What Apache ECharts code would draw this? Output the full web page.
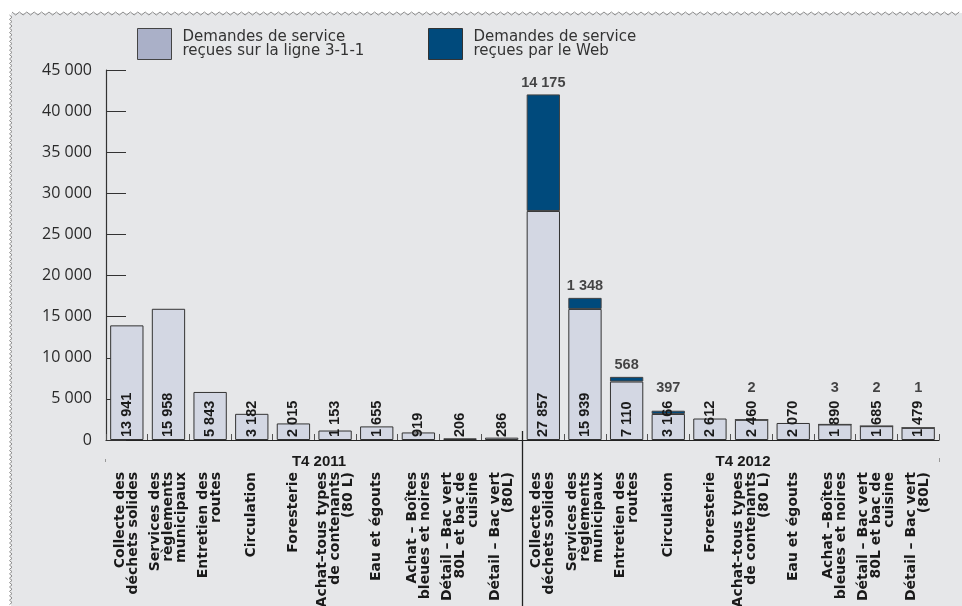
<!DOCTYPE html>
<html>
<head>
<meta charset="utf-8">
<script src="https://cdn.jsdelivr.net/npm/echarts@6.0.0/dist/echarts.min.js"></script>
<style>
  html, body { margin: 0; padding: 0; background: #ffffff; }
  #chart { width: 962px; height: 606px; }
</style>
</head>
<body>
<div id="chart"></div>
<script>
// Service requests by category, Q4 2011 vs Q4 2012
const categories = [
  'Collecte des\ndéchets solides',
  'Services des\nrèglements\nmunicipaux',
  'Entretien des\nroutes',
  'Circulation',
  'Foresterie',
  'Achat–tous types\nde contenants\n(80 L)',
  'Eau et égouts',
  'Achat – Boîtes\nbleues et noires',
  'Détail – Bac vert\n80L et bac de\ncuisine',
  'Détail – Bac vert\n(80L)',
  'Collecte des\ndéchets solides ',
  'Services des\nrèglements\nmunicipaux ',
  'Entretien des\nroutes ',
  'Circulation ',
  'Foresterie ',
  'Achat–tous types\nde contenants\n(80 L) ',
  'Eau et égouts ',
  'Achat –Boîtes\nbleues et noires',
  'Détail – Bac vert\n80L et bac de\ncuisine ',
  'Détail – Bac vert\n(80L) '
];
const periods = ['T4 2011', 'T4 2012'];
const phoneRequests = [13941, 15958, 5843, 3182, 2015, 1153, 1655, 919, 206, 286,
                       27857, 15939, 7110, 3166, 2612, 2460, 2070, 1890, 1685, 1479];
const webRequests = [null, null, null, null, null, null, null, null, null, null,
                     14175, 1348, 568, 397, null, 2, null, 3, 2, 1];
const seriesNames = ['Demandes de service\nreçues sur la ligne 3-1-1',
                     'Demandes de service\nreçues par le Web'];
const yMin = 0, yMax = 45000, yStep = 5000;

// lowest value at which a web label may sit, so it clears the rotated labels
const WEB_LABEL_FLOOR = 4900;

const fmt = n => String(n).replace(/\B(?=(\d{3})+(?!\d))/g, ' ');

const webLabelAnchors = [];
webRequests.forEach((v, i) => {
  if (v != null) webLabelAnchors.push([i, Math.max(phoneRequests[i] + v, WEB_LABEL_FLOOR), v]);
});

const chart = echarts.init(document.getElementById('chart'), null, { renderer: 'canvas' });

function zigzag(x0, y0, x1, y1, step, amp, horizontal) {
  const pts = [];
  let k = 0;
  if (horizontal) {
    for (let x = x0; x <= x1; x += step, k++) pts.push([x, y0 + (k % 2 ? amp : 0)]);
  } else {
    for (let y = y0; y <= y1; y += step, k++) pts.push([x0 + (k % 2 ? amp : 0), y]);
  }
  return pts;
}

const legendText = { fontFamily: 'DejaVu Sans', fontSize: 15, lineHeight: 14, color: '#333', padding: [0, 0, 0, 6] };

const option = {
  backgroundColor: '#ffffff',
  animation: false,
  grid: { left: 106, right: 23, top: 70, bottom: 166, containLabel: false, outerBoundsMode: 'none' },
  legend: [
    {
      left: 137, top: 28, padding: 0, selectedMode: false, icon: 'rect',
      itemWidth: 34, itemHeight: 31,
      data: [{ name: seriesNames[0], itemStyle: { color: '#aab0c8', borderColor: '#444', borderWidth: 1 } }],
      textStyle: legendText
    },
    {
      left: 428, top: 28, padding: 0, selectedMode: false, icon: 'rect',
      itemWidth: 34, itemHeight: 31,
      data: [{ name: seriesNames[1], itemStyle: { color: '#004a7c', borderColor: '#333', borderWidth: 1 } }],
      textStyle: legendText
    }
  ],
  xAxis: {
    type: 'category',
    data: categories,
    boundaryGap: true,
    axisLine: { lineStyle: { color: '#222', width: 1.2 } },
    axisTick: { show: true, inside: true, length: 6, lineStyle: { color: '#555' } },
    axisLabel: {
      interval: 0, rotate: 90, margin: 32,
      fontFamily: 'DejaVu Sans', fontWeight: 'bold', fontSize: 14, lineHeight: 13, color: '#1a1a1a',
      formatter: v => v.trim()
    }
  },
  yAxis: {
    type: 'value', min: yMin, max: yMax, interval: yStep,
    splitLine: { show: false },
    axisLine: { show: true, lineStyle: { color: '#333', width: 1.2 } },
    axisTick: { show: true, inside: true, length: 20, lineStyle: { color: '#333' } },
    axisLabel: { margin: 14, formatter: fmt, fontFamily: 'Open Sans', fontSize: 16, color: '#2a2a2a' }
  },
  series: [
    {
      name: seriesNames[0], type: 'bar', stack: 'total', data: phoneRequests, barWidth: '80%',
      itemStyle: { color: '#d3d7e3', borderColor: '#333', borderWidth: 1 },
      label: {
        show: true, position: 'insideBottom', distance: 3, rotate: 90,
        align: 'left', verticalAlign: 'middle',
        formatter: p => fmt(p.value),
        fontFamily: 'Liberation Sans', fontWeight: 'bold', fontSize: 14.5, color: '#1a1a1a'
      }
    },
    {
      name: seriesNames[1], type: 'bar', stack: 'total', data: webRequests, barWidth: '80%',
      itemStyle: { color: '#004a7c', borderColor: '#444', borderWidth: 1 }
    },
    {
      type: 'scatter', data: webLabelAnchors, symbolSize: 0, silent: true, z: 5,
      encode: { x: 0, y: 1 },
      label: {
        show: true, position: 'top', distance: 4,
        formatter: p => fmt(p.value[2]),
        fontFamily: 'Liberation Sans', fontWeight: 'bold', fontSize: 14.5, color: '#1a1a1a'
      }
    }
  ]
};

chart.setOption(option);

// frame, period captions and the divider between the two quarters
const xLeftGroupEnd = chart.convertToPixel({ xAxisIndex: 0 }, 9);
const xRightGroupStart = chart.convertToPixel({ xAxisIndex: 0 }, 10);
const dividerX = Math.round((xLeftGroupEnd + xRightGroupStart) / 2) + 0.5;
const baseY = chart.convertToPixel({ yAxisIndex: 0 }, 0);

chart.setOption({
  graphic: [
    { type: 'rect', z: -10, silent: true, shape: { x: 11, y: 13, width: 951, height: 593 }, style: { fill: '#e6e7e9' } },
    { type: 'polyline', z: -9, silent: true, shape: { points: zigzag(12, 12, 962, 0, 3.7, 3, true) }, style: { stroke: '#8c8c8c', lineWidth: 1, fill: null } },
    { type: 'polyline', z: -9, silent: true, shape: { points: zigzag(9.5, 15, 0, 606, 2.2, 2.5, false) }, style: { stroke: '#8c8c8c', lineWidth: 1, fill: null } },
    { type: 'line', z: 10, silent: true, shape: { x1: dividerX, y1: baseY - 9, x2: dividerX, y2: 606 }, style: { stroke: '#222', lineWidth: 1.3 } },
    { type: 'line', z: 10, silent: true, shape: { x1: 105.5, y1: baseY + 19, x2: 105.5, y2: baseY + 22 }, style: { stroke: '#999', lineWidth: 1 } },
    { type: 'line', z: 10, silent: true, shape: { x1: 939.5, y1: baseY + 18, x2: 939.5, y2: baseY + 22 }, style: { stroke: '#999', lineWidth: 1 } },
    { type: 'text', z: 10, silent: true, x: 319, y: baseY + 22, style: { text: periods[0], align: 'center', verticalAlign: 'middle', font: 'bold 15px "Liberation Sans"', fill: '#1a1a1a' } },
    { type: 'text', z: 10, silent: true, x: 743, y: baseY + 22, style: { text: periods[1], align: 'center', verticalAlign: 'middle', font: 'bold 15px "Liberation Sans"', fill: '#1a1a1a' } }
  ]
});
</script>
</body>
</html>
